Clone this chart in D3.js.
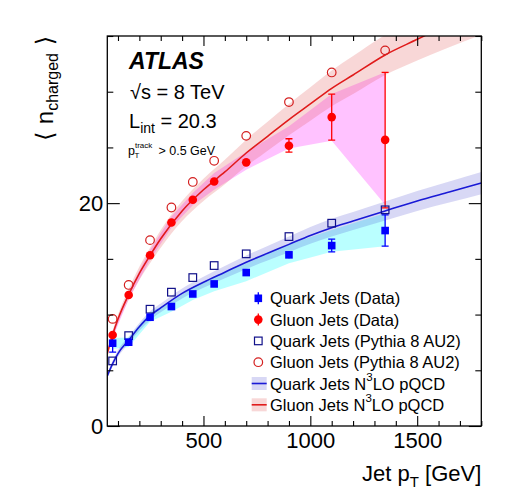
<!DOCTYPE html>
<html>
<head>
<meta charset="utf-8">
<script src="https://cdn.jsdelivr.net/npm/d3@7"></script>
<style>
  html, body { margin: 0; padding: 0; background: #fff; }
  svg { display: block; font-family: "Liberation Sans", Arial, Helvetica, sans-serif; }
</style>
</head>
<body>
<svg id="chart" width="514" height="502"></svg>
<script>
// ---------------- data ----------------
const ptBins = [75, 150, 250, 350, 450, 550, 700, 900, 1100, 1350];

const quarkData   = [7.43, 7.52, 9.76, 10.72, 11.85, 12.75, 13.77, 15.36, 16.19, 17.54];
const quarkErrLo  = [0.80, 0.20, 0.20, 0.20, 0.20, 0.20, 0.25, 0.30, 0.56, 1.40];
const quarkErrHi  = [0.80, 0.20, 0.20, 0.20, 0.20, 0.20, 0.25, 0.30, 0.58, 1.41];
const quarkBandLo = [6.90, 7.10, 9.35, 10.25, 11.30, 12.10, 13.00, 14.60, 15.63, 16.14];
const quarkBandHi = [7.90, 7.95, 10.20, 11.20, 12.40, 13.40, 14.60, 16.30, 17.60, 19.10];

const gluonData   = [8.17, 11.76, 15.33, 18.26, 20.30, 21.94, 23.66, 25.15, 27.72, 25.68];
const gluonErrLo  = [0.20, 0.20, 0.20, 0.20, 0.20, 0.25, 0.30, 0.57, 2.06, 6.10];
const gluonErrHi  = [0.20, 0.20, 0.20, 0.20, 0.20, 0.25, 0.30, 0.63, 2.07, 6.05];
const gluonBandLo = [7.90, 11.40, 14.90, 17.80, 19.80, 21.20, 23.00, 24.90, 25.60, 19.85];
const gluonBandHi = [8.50, 12.10, 15.80, 18.80, 20.90, 22.70, 24.60, 26.90, 29.80, 31.75];

const quarkPythia = [5.84, 8.11, 10.48, 12.01, 13.32, 14.40, 15.45, 17.00, 18.20, 19.40];
const gluonPythia = [9.61, 12.66, 16.68, 19.61, 21.90, 23.80, 26.04, 29.07, 31.73, 33.71];

const theoryPt      = [50, 75, 100, 150, 200, 250, 300, 400, 500, 600, 700, 800, 900, 1000, 1100, 1200, 1350, 1500, 1650, 1800];
const quarkTheory   = [4.5, 5.6, 6.5, 7.7, 8.9, 9.9, 10.6, 11.9, 12.9, 13.8, 14.7, 15.5, 16.3, 17.1, 17.8, 18.4, 19.3, 20.2, 21.0, 21.8];
const quarkTheoryLo = [4.3, 5.35, 6.2, 7.4, 8.55, 9.5, 10.2, 11.45, 12.4, 13.25, 14.1, 14.85, 15.6, 16.35, 17.0, 17.6, 18.45, 19.3, 20.05, 20.8];
const quarkTheoryHi = [4.7, 5.85, 6.8, 8.0, 9.25, 10.3, 11.0, 12.35, 13.4, 14.35, 15.3, 16.15, 17.0, 17.85, 18.6, 19.2, 20.15, 21.1, 21.95, 22.8];
const gluonTheory   = [6.5, 8.2, 9.6, 11.8, 13.7, 15.3, 16.8, 19.3, 21.2, 22.8, 24.5, 26.0, 27.5, 28.9, 30.3, 31.5, 33.3, 34.7, 36.1, 37.4];
const gluonTheoryLo = [6.2, 7.85, 9.2, 11.3, 13.1, 14.6, 16.0, 18.4, 20.2, 21.7, 23.3, 24.7, 26.1, 27.4, 28.7, 29.8, 31.5, 32.8, 34.0, 35.1];
const gluonTheoryHi = [6.8, 8.55, 10.0, 12.3, 14.3, 16.0, 17.6, 20.2, 22.2, 23.9, 25.7, 27.3, 28.9, 30.4, 31.9, 33.2, 35.1, 36.6, 38.2, 39.7];

const xMajorTicks = [500, 1000, 1500];
const xMinorTicks = [100, 200, 300, 400, 600, 700, 800, 900, 1100, 1200, 1300, 1400, 1600, 1700, 1800];
const yMajorTicks = [0, 20];
const yMinorTicks = [5, 10, 15, 25, 30, 35];

const legendLabels = [
  "Quark Jets (Data)",
  "Gluon Jets (Data)",
  "Quark Jets (Pythia 8 AU2)",
  "Gluon Jets (Pythia 8 AU2)",
  "Quark Jets N",
  "Gluon Jets N"
];

// ---------------- layout ----------------
const L = 107.3, R = 481.3, T = 36, B = 426;
const x = d3.scaleLinear().domain([50, 1800]).range([L, R]);
const y = d3.scaleLinear().domain([0, 35]).range([B, T]);

const svg = d3.select("#chart");

const C = {
  blue: "#0000ff", red: "#ff0000",
  qLine: "#1a1ad6", gLine: "#e01b1b",
  qOpen: "#10108a", gOpen: "#d42020",
  qTheoBand: "#3a3acc", gTheoBand: "#dd4a4a",
  cyan: "#00ffff", magenta: "#ff66ff"
};

svg.append("defs").append("clipPath").attr("id", "plotclip")
  .append("rect").attr("x", L).attr("y", T).attr("width", R - L).attr("height", B - T);

const plot = svg.append("g").attr("clip-path", "url(#plotclip)");

const bandRows = (lo, hi, xs) => xs.map((p, i) => ({p, lo: lo[i], hi: hi[i]}));
const area = d3.area().x(d => x(d.p)).y0(d => y(d.lo)).y1(d => y(d.hi));
const areaSmooth = d3.area().curve(d3.curveMonotoneX).x(d => x(d.p)).y0(d => y(d.lo)).y1(d => y(d.hi));
const lineSmooth = d3.line().curve(d3.curveMonotoneX).x(d => x(d.p)).y(d => y(d.v));

// data systematic bands
plot.append("path").datum(bandRows(quarkBandLo, quarkBandHi, ptBins))
  .attr("d", area).attr("fill", C.cyan).attr("fill-opacity", 0.27);
plot.append("path").datum(bandRows(gluonBandLo, gluonBandHi, ptBins))
  .attr("d", area).attr("fill", C.magenta).attr("fill-opacity", 0.4);

// theory bands
plot.append("path").datum(bandRows(quarkTheoryLo, quarkTheoryHi, theoryPt))
  .attr("d", areaSmooth).attr("fill", C.qTheoBand).attr("fill-opacity", 0.2);
plot.append("path").datum(bandRows(gluonTheoryLo, gluonTheoryHi, theoryPt))
  .attr("d", areaSmooth).attr("fill", C.gTheoBand).attr("fill-opacity", 0.22);

// theory lines
plot.append("path").datum(theoryPt.map((p, i) => ({p, v: quarkTheory[i]})))
  .attr("d", lineSmooth).attr("fill", "none").attr("stroke", C.qLine).attr("stroke-width", 1.6);
plot.append("path").datum(theoryPt.map((p, i) => ({p, v: gluonTheory[i]})))
  .attr("d", lineSmooth).attr("fill", "none").attr("stroke", C.gLine).attr("stroke-width", 1.6);

// error bars
function errBars(vals, lo, hi, color) {
  const g = plot.append("g").attr("stroke", color).attr("stroke-width", 1.3);
  ptBins.forEach((p, i) => {
    const cx = x(p), y1 = y(vals[i] - lo[i]), y2 = y(vals[i] + hi[i]);
    g.append("line").attr("x1", cx).attr("x2", cx).attr("y1", y1).attr("y2", y2);
    if (y1 - y2 > 9) {
      g.append("line").attr("x1", cx - 3.5).attr("x2", cx + 3.5).attr("y1", y1).attr("y2", y1);
      g.append("line").attr("x1", cx - 3.5).attr("x2", cx + 3.5).attr("y1", y2).attr("y2", y2);
    }
  });
}
errBars(gluonData, gluonErrLo, gluonErrHi, C.red);
errBars(quarkData, quarkErrLo, quarkErrHi, C.blue);

// pythia markers
const S = 7.6;
plot.append("g").selectAll("rect").data(quarkPythia).join("rect")
  .attr("x", (d, i) => x(ptBins[i]) - S / 2).attr("y", d => y(d) - S / 2)
  .attr("width", S).attr("height", S)
  .attr("fill", "none").attr("stroke", C.qOpen).attr("stroke-width", 1.2);
plot.append("g").selectAll("circle").data(gluonPythia).join("circle")
  .attr("cx", (d, i) => x(ptBins[i])).attr("cy", d => y(d)).attr("r", 4.3)
  .attr("fill", "none").attr("stroke", C.gOpen).attr("stroke-width", 1.2);

// data markers
plot.append("g").selectAll("rect").data(quarkData).join("rect")
  .attr("x", (d, i) => x(ptBins[i]) - 3.8).attr("y", d => y(d) - 3.8)
  .attr("width", 7.6).attr("height", 7.6).attr("fill", C.blue);
plot.append("g").selectAll("circle").data(gluonData).join("circle")
  .attr("cx", (d, i) => x(ptBins[i])).attr("cy", d => y(d)).attr("r", 4.3)
  .attr("fill", C.red);

// ---------------- axes ----------------
const axG = svg.append("g").attr("font-family", "'Liberation Sans', Arial, sans-serif");
function styleAxis(g) {
  g.select(".domain").remove();
  g.selectAll(".tick line").attr("stroke", "#000").attr("stroke-width", 1.1);
  g.selectAll("text").attr("font-size", 22).attr("fill", "#000");
}
axG.append("g").attr("transform", `translate(0,${B})`)
  .call(d3.axisBottom(x).tickValues(xMajorTicks).tickSize(-10).tickPadding(6).tickFormat(d3.format("d")))
  .call(styleAxis);
axG.append("g").attr("transform", `translate(0,${B})`)
  .call(d3.axisBottom(x).tickValues(xMinorTicks).tickSize(-5).tickFormat(""))
  .call(styleAxis);
axG.append("g").attr("transform", `translate(0,${T})`)
  .call(d3.axisTop(x).tickValues(xMajorTicks).tickSize(-10).tickFormat(""))
  .call(styleAxis);
axG.append("g").attr("transform", `translate(0,${T})`)
  .call(d3.axisTop(x).tickValues(xMinorTicks).tickSize(-5).tickFormat(""))
  .call(styleAxis);
axG.append("g").attr("transform", `translate(${L},0)`)
  .call(d3.axisLeft(y).tickValues(yMajorTicks).tickSize(-12.5).tickPadding(4).tickFormat(d3.format("d")))
  .call(styleAxis);
axG.append("g").attr("transform", `translate(${L},0)`)
  .call(d3.axisLeft(y).tickValues(yMinorTicks).tickSize(-6).tickFormat(""))
  .call(styleAxis);
axG.append("g").attr("transform", `translate(${R},0)`)
  .call(d3.axisRight(y).tickValues(yMajorTicks).tickSize(-12.5).tickFormat(""))
  .call(styleAxis);
axG.append("g").attr("transform", `translate(${R},0)`)
  .call(d3.axisRight(y).tickValues(yMinorTicks).tickSize(-6).tickFormat(""))
  .call(styleAxis);

svg.append("rect").attr("x", L).attr("y", T).attr("width", R - L).attr("height", B - T)
  .attr("fill", "none").attr("stroke", "#000").attr("stroke-width", 1.3);

// axis titles
const xt = svg.append("text").attr("x", R).attr("y", 481).attr("text-anchor", "end")
  .attr("font-size", 22).attr("fill", "#000");
xt.append("tspan").text("Jet p");
xt.append("tspan").attr("font-size", 15).attr("dy", 6).text("T");
xt.append("tspan").attr("dy", -6).text(" [GeV]");

const yt = svg.append("text").attr("transform", `translate(53,36) rotate(-90)`)
  .attr("text-anchor", "end").attr("font-size", 24).attr("fill", "#000");
yt.append("tspan").attr("font-family", "'DejaVu Sans', sans-serif").attr("font-weight", 200).text("\u27E8 ");
yt.append("tspan").text("n");
yt.append("tspan").attr("font-size", 16).attr("dy", 5).text("charged");
yt.append("tspan").attr("dy", -5).attr("font-family", "'DejaVu Sans', sans-serif").text(" \u27E9");

// ATLAS labels
svg.append("text").attr("x", 129).attr("y", 69).attr("font-size", 23)
  .attr("font-weight", "bold").attr("font-style", "italic").text("ATLAS");
svg.append("text").attr("x", 130).attr("y", 99).attr("font-size", 20).text("\u221As = 8 TeV");
const lt = svg.append("text").attr("x", 129).attr("y", 128).attr("font-size", 20);
lt.append("tspan").text("L");
lt.append("tspan").attr("font-size", 14).attr("dy", 5).text("int");
lt.append("tspan").attr("dy", -5).text(" = 20.3");
const pt = svg.append("text").attr("x", 128).attr("y", 155).attr("font-size", 12.5);
pt.append("tspan").text("p");
pt.append("tspan").attr("font-size", 8).attr("dy", -7).text("track");
pt.append("tspan").attr("font-size", 8).attr("x", 134.5).attr("dy", 10).text("T");
pt.append("tspan").attr("x", 155).attr("dy", -3).text(" > 0.5 GeV");

// ---------------- legend ----------------
const legX = 258.3, legTextX = 270, legY0 = 298.3, legDy = 21.3;
const leg = svg.append("g");
legendLabels.forEach((lab, i) => {
  const cy = legY0 + i * legDy;
  const t = leg.append("text").attr("x", legTextX).attr("y", cy + 6).attr("font-size", 16.5).attr("fill", "#000");
  t.append("tspan").text(lab);
  if (i >= 4) {
    t.append("tspan").attr("font-size", 11.5).attr("dy", -9).text("3");
    t.append("tspan").attr("dy", 9).text("LO pQCD");
  }
});
// symbols
const r0 = legY0, r1 = legY0 + legDy, r2 = legY0 + 2 * legDy, r3 = legY0 + 3 * legDy, r4 = legY0 + 4 * legDy, r5 = legY0 + 5 * legDy;
leg.append("line").attr("x1", legX).attr("x2", legX).attr("y1", r0 - 6).attr("y2", r0 + 6).attr("stroke", C.blue).attr("stroke-width", 1.3);
leg.append("rect").attr("x", legX - 3.8).attr("y", r0 - 3.8).attr("width", 7.6).attr("height", 7.6).attr("fill", C.blue);
leg.append("line").attr("x1", legX).attr("x2", legX).attr("y1", r1 - 6).attr("y2", r1 + 6).attr("stroke", C.red).attr("stroke-width", 1.3);
leg.append("circle").attr("cx", legX).attr("cy", r1).attr("r", 4.3).attr("fill", C.red);
leg.append("rect").attr("x", legX - 3.8).attr("y", r2 - 3.8).attr("width", 7.6).attr("height", 7.6)
  .attr("fill", "none").attr("stroke", C.qOpen).attr("stroke-width", 1.2);
leg.append("circle").attr("cx", legX).attr("cy", r3).attr("r", 4.3)
  .attr("fill", "none").attr("stroke", C.gOpen).attr("stroke-width", 1.2);
leg.append("rect").attr("x", 251.7).attr("y", r4 - 6.5).attr("width", 15).attr("height", 13)
  .attr("fill", C.qTheoBand).attr("fill-opacity", 0.2);
leg.append("line").attr("x1", 251.7).attr("x2", 266.7).attr("y1", r4).attr("y2", r4).attr("stroke", C.qLine).attr("stroke-width", 1.6);
leg.append("rect").attr("x", 251.7).attr("y", r5 - 6.5).attr("width", 15).attr("height", 13)
  .attr("fill", C.gTheoBand).attr("fill-opacity", 0.22);
leg.append("line").attr("x1", 251.7).attr("x2", 266.7).attr("y1", r5).attr("y2", r5).attr("stroke", C.gLine).attr("stroke-width", 1.6);
</script>
</body>
</html>
